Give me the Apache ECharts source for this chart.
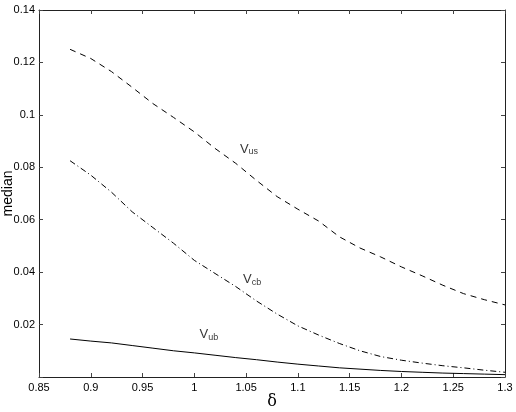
<!DOCTYPE html>
<html>
<head>
<meta charset="utf-8">
<script src="https://cdn.jsdelivr.net/npm/echarts@6/dist/echarts.min.js"></script>
<style>html,body{margin:0;padding:0;background:#fff}#c{width:516px;height:412px}</style>
</head>
<body>
<div id="c"></div>
<script>
const deltaValues = [0.88,0.90,0.92,0.94,0.96,0.98,1.00,1.02,1.04,1.06,1.08,1.10,1.12,1.14,1.16,1.18,1.20,1.22,1.24,1.26,1.28,1.30];
const vUs = [0.1250,0.1215,0.1165,0.1105,0.1043,0.0990,0.0935,0.0872,0.0815,0.0750,0.0688,0.0640,0.0595,0.0535,0.0492,0.0458,0.0420,0.0386,0.0350,0.0318,0.0295,0.0275];
const vCb = [0.0825,0.0770,0.0705,0.0630,0.0570,0.0510,0.0445,0.0395,0.0345,0.0290,0.0240,0.0195,0.0160,0.0128,0.0100,0.0078,0.0064,0.0053,0.0043,0.0035,0.0026,0.0018];
const vUb = [0.0145,0.0137,0.0130,0.0120,0.0110,0.0100,0.0092,0.0083,0.0074,0.0066,0.0057,0.0049,0.0042,0.0035,0.0030,0.0025,0.0021,0.0018,0.0015,0.0013,0.0011,0.0009];
const curveLabels = [
  {main: 'V', sub: 'us', at: [1.044, 0.0868]},
  {main: 'V', sub: 'cb', at: [1.047, 0.0370]},
  {main: 'V', sub: 'ub', at: [1.005, 0.0162]}
];
const xTicks = [0.85, 0.9, 0.95, 1, 1.05, 1.1, 1.15, 1.2, 1.25, 1.3];
const yTicks = [0.02, 0.04, 0.06, 0.08, 0.1, 0.12, 0.14];

const pair = ys => deltaValues.map((x, i) => [x, ys[i]]);
const font = 'Liberation Sans, Arial, Helvetica, sans-serif';
const frameLine = {color: '#222', width: 1};
const chart = echarts.init(document.getElementById('c'), null, {renderer: 'canvas'});
const baseX = {
  type: 'value', min: 0.85, max: 1.3, interval: 0.05,
  splitLine: {show: false}, axisLine: {show: true, onZero: false, lineStyle: frameLine},
  axisTick: {show: true, inside: true, length: 4, lineStyle: {color: '#444'}}
};
const baseY = {
  type: 'value', min: 0, max: 0.14, interval: 0.02,
  splitLine: {show: false}, axisLine: {show: true, onZero: false, lineStyle: frameLine},
  axisTick: {show: true, inside: true, length: 4, lineStyle: {color: '#444'}}
};
chart.setOption({
  animation: false,
  backgroundColor: '#fff',
  grid: {left: 39, right: 11, top: 10, bottom: 35, containLabel: false, outerBoundsMode: 'none'},
  xAxis: [
    Object.assign({}, baseX, {
      position: 'bottom',
      axisLabel: {color: '#000', fontFamily: font, fontSize: 11, margin: 5,
        formatter: v => xTicks.some(t => Math.abs(t - v) < 1e-9) ? String(+v.toFixed(2)) : ''},
      name: 'δ', nameLocation: 'middle', nameGap: 17, nameMoveOverlap: false,
      nameTextStyle: {color: '#000', fontFamily: 'DejaVu Serif, serif', fontSize: 16}
    }),
    Object.assign({}, baseX, {position: 'top', axisLabel: {show: false}})
  ],
  yAxis: [
    Object.assign({}, baseY, {
      position: 'left',
      axisLabel: {color: '#000', fontFamily: font, fontSize: 11, margin: 4,
        formatter: v => yTicks.some(t => Math.abs(t - v) < 1e-9) ? String(+v.toFixed(2)) : ''},
      name: 'median', nameLocation: 'middle', nameGap: 24, nameRotate: 90, nameMoveOverlap: false,
      nameTextStyle: {color: '#000', fontFamily: font, fontSize: 14}
    }),
    Object.assign({}, baseY, {position: 'right', axisLabel: {show: false}})
  ],
  series: [
    {type: 'line', data: pair(vUs), symbol: 'none', smooth: false,
      lineStyle: {color: '#000', width: 1, type: [6, 5]}},
    {type: 'line', data: pair(vCb), symbol: 'none', smooth: false,
      lineStyle: {color: '#000', width: 1, type: [6, 3, 1, 3]}},
    {type: 'line', data: pair(vUb), symbol: 'none', smooth: false,
      lineStyle: {color: '#000', width: 1}},
    {type: 'scatter', symbolSize: 0, silent: true,
      data: curveLabels.map(l => ({value: l.at, label: {
        show: true, position: 'right', distance: 0,
        formatter: '{v|' + l.main + '}{s|' + l.sub + '}',
        rich: {
          v: {fontFamily: font, fontSize: 13, color: '#000', lineHeight: 14, verticalAlign: 'top'},
          s: {fontFamily: font, fontSize: 9, color: '#000', lineHeight: 9, padding: [8, 0, 0, 0], verticalAlign: 'bottom'}
        }
      }}))
    }
  ]
});
</script>
</body>
</html>
